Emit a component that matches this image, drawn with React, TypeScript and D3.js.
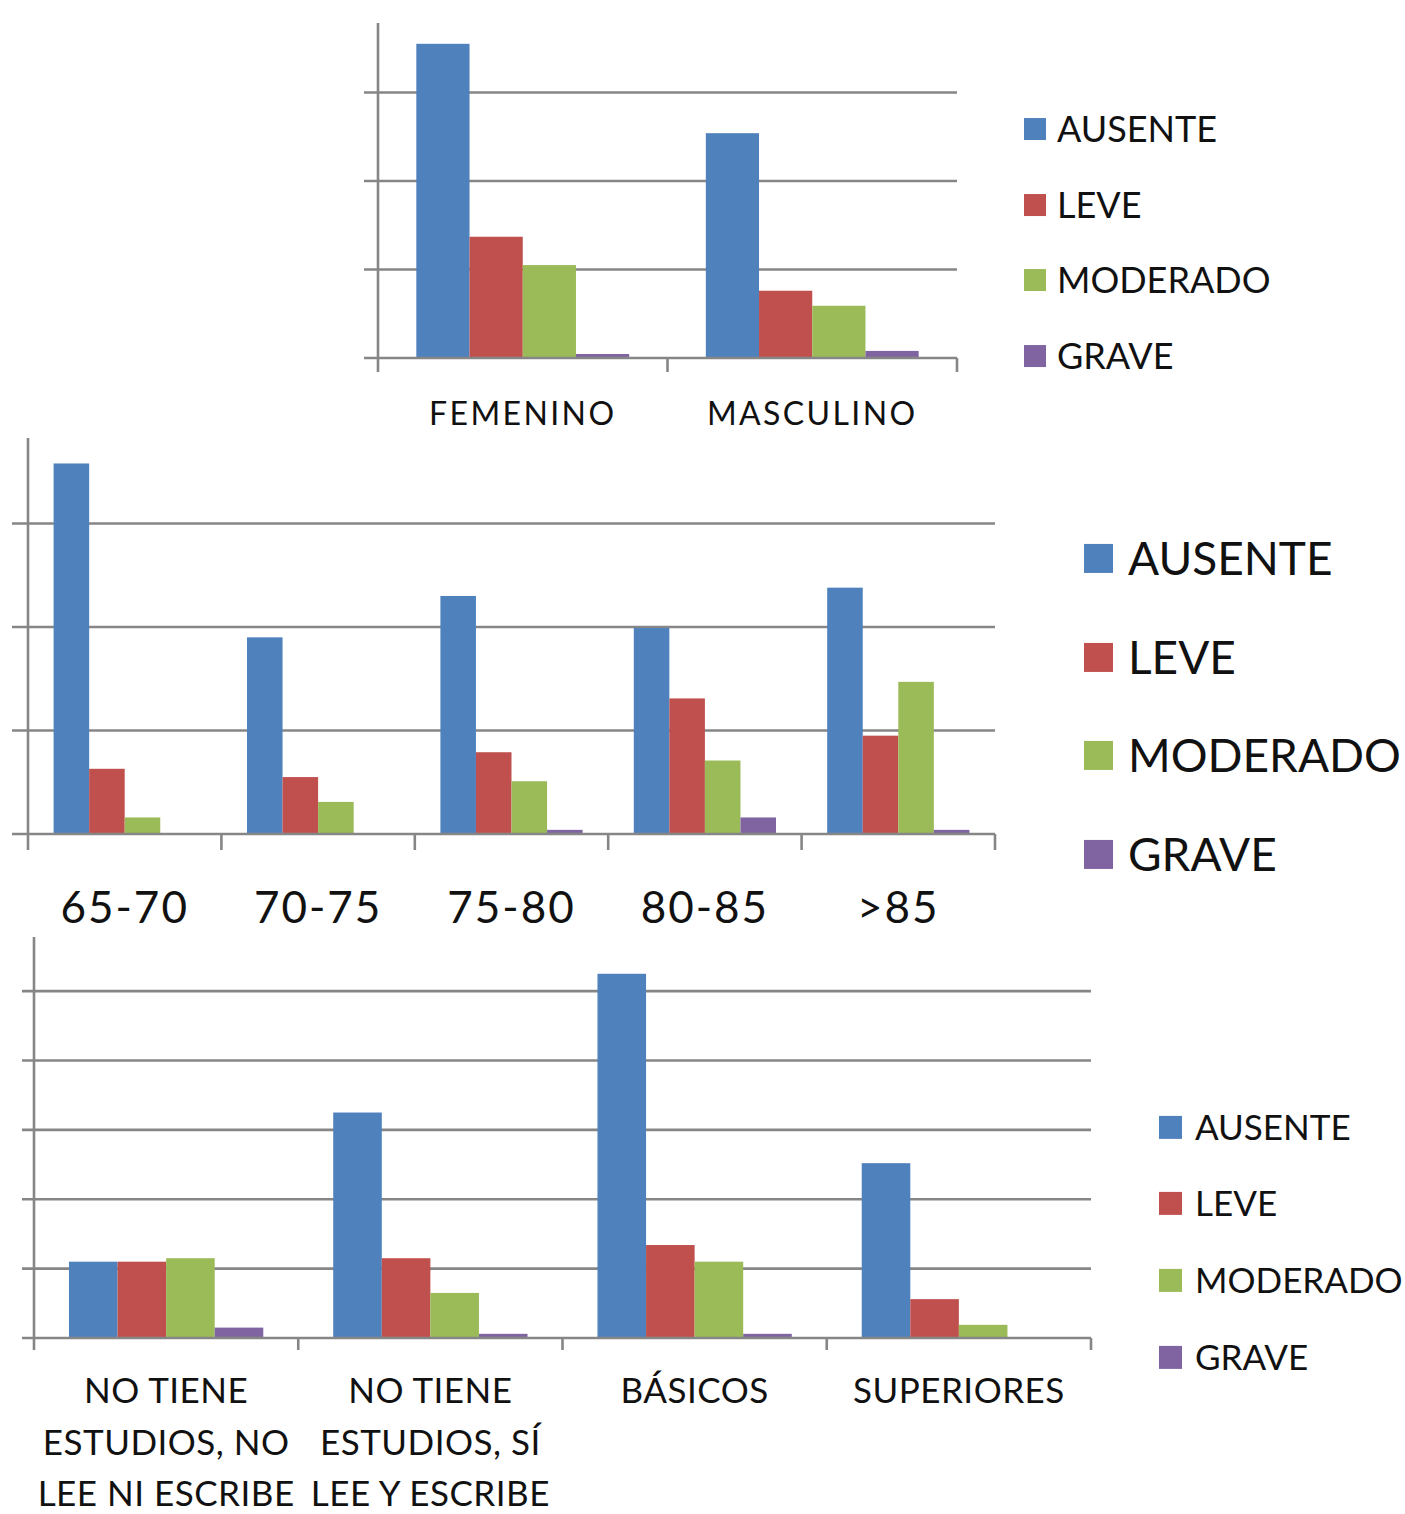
import React from "react";
import * as d3 from "d3";

// ---------- data ----------
const SERIES = ["AUSENTE", "LEVE", "MODERADO", "GRAVE"];
const COLORS = ["#4F81BD", "#C0504D", "#9BBB59", "#8064A2"];

// Chart 1: sexo (%)
const SEXO_CATEGORIES = [["FEMENINO"], ["MASCULINO"]];
const SEXO_AUSENTE = [35.5, 25.4];
const SEXO_LEVE = [13.7, 7.6];
const SEXO_MODERADO = [10.5, 5.9];
const SEXO_GRAVE = [0.45, 0.8];
const SEXO_GRID = [10, 20, 30];

// Chart 2: edad (%)
const EDAD_CATEGORIES = [["65-70"], ["70-75"], ["75-80"], ["80-85"], [">85"]];
const EDAD_AUSENTE = [17.9, 9.5, 11.5, 9.95, 11.9];
const EDAD_LEVE = [3.15, 2.75, 3.95, 6.55, 4.75];
const EDAD_MODERADO = [0.8, 1.55, 2.55, 3.55, 7.35];
const EDAD_GRAVE = [0, 0, 0.2, 0.8, 0.2];
const EDAD_GRID = [5, 10, 15];

// Chart 3: estudios (%)
const ESTUDIOS_CATEGORIES = [
  ["NO TIENE", "ESTUDIOS, NO", "LEE NI ESCRIBE"],
  ["NO TIENE", "ESTUDIOS, SÍ", "LEE Y ESCRIBE"],
  ["BÁSICOS"],
  ["SUPERIORES"],
];
const ESTUDIOS_AUSENTE = [5.5, 16.25, 26.25, 12.6];
const ESTUDIOS_LEVE = [5.5, 5.75, 6.7, 2.8];
const ESTUDIOS_MODERADO = [5.75, 3.25, 5.5, 0.95];
const ESTUDIOS_GRAVE = [0.75, 0.3, 0.3, 0];
const ESTUDIOS_GRID = [5, 10, 15, 20, 25];

const FONT = "Lato, 'Open Sans', sans-serif";
const GRID_COLOR = "#868686";

type Layout = {
  left: number;
  right: number;
  baseline: number;
  top: number;
  yMax: number;
  tick: number;
  labelSize: number;
  labelSpacing: number;
  labelBaseline: number;
  labelLineGap: number;
  legendX: number;
  legendTextX: number;
  legendBaselines: number[];
  legendSquare: number;
  legendSize: number;
  legendSpacing: number;
};

function Chart({
  categories,
  values,
  grid,
  L,
}: {
  categories: string[][];
  values: number[][];
  grid: number[];
  L: Layout;
}) {
  const keys = categories.map((c) => c.join(" "));
  const x0 = d3.scaleBand<string>().domain(keys).range([L.left, L.right]).paddingInner(0).paddingOuter(0);
  const x1 = d3
    .scaleBand<string>()
    .domain(SERIES)
    .range([0, x0.bandwidth()])
    .paddingInner(0)
    .paddingOuter(0.72);
  const y = d3.scaleLinear().domain([0, L.yMax]).range([L.baseline, L.top]);
  const boundaries = d3.range(keys.length + 1).map((i) => L.left + i * x0.step());

  return (
    <g>
      {grid.map((g) => (
        <line
          key={g}
          x1={L.left - L.tick}
          x2={L.right}
          y1={y(g)}
          y2={y(g)}
          stroke={GRID_COLOR}
          strokeWidth={2.6}
        />
      ))}
      {keys.map((k, ci) => (
        <g key={k} transform={`translate(${x0(k)},0)`}>
          {SERIES.map((s, si) => {
            const v = values[si][ci];
            return (
              <rect
                key={s}
                x={x1(s)}
                y={y(v)}
                width={x1.bandwidth()}
                height={L.baseline - y(v)}
                fill={COLORS[si]}
              />
            );
          })}
        </g>
      ))}
      <line x1={L.left - L.tick} x2={L.right} y1={L.baseline} y2={L.baseline} stroke={GRID_COLOR} strokeWidth={2.6} />
      <line x1={L.left} x2={L.left} y1={L.top} y2={L.baseline + L.tick} stroke={GRID_COLOR} strokeWidth={2.6} />
      {boundaries.slice(1).map((bx, i) => (
        <line key={i} x1={bx} x2={bx} y1={L.baseline} y2={L.baseline + L.tick} stroke={GRID_COLOR} strokeWidth={2.6} />
      ))}
      {categories.map((lines, ci) => {
        const cx = (x0(keys[ci]) as number) + x0.bandwidth() / 2;
        return (
          <text
            key={ci}
            x={cx}
            y={L.labelBaseline}
            textAnchor="middle"
            fontFamily={FONT}
            fontSize={L.labelSize}
            letterSpacing={L.labelSpacing}
            fill="#111"
          >
            {lines.map((ln, li) => (
              <tspan key={li} x={cx} y={L.labelBaseline + li * L.labelLineGap}>
                {ln}
              </tspan>
            ))}
          </text>
        );
      })}
      {SERIES.map((s, si) => (
        <g key={s}>
          <rect
            x={L.legendX}
            y={L.legendBaselines[si] - L.legendSquare - (L.legendSize * 0.72 - L.legendSquare) / 2}
            width={L.legendSquare}
            height={L.legendSquare}
            fill={COLORS[si]}
          />
          <text
            x={L.legendTextX}
            y={L.legendBaselines[si]}
            fontFamily={FONT}
            fontSize={L.legendSize}
            letterSpacing={L.legendSpacing}
            fill="#111"
          >
            {s}
          </text>
        </g>
      ))}
    </g>
  );
}

const L1: Layout = {
  left: 378,
  right: 957,
  baseline: 358,
  top: 23,
  yMax: 37.85,
  tick: 14,
  labelSize: 32,
  labelSpacing: 2.4,
  labelBaseline: 425,
  labelLineGap: 0,
  legendX: 1024,
  legendTextX: 1057,
  legendBaselines: [142, 218, 293, 369],
  legendSquare: 22,
  legendSize: 36,
  legendSpacing: 0,
};

const L2: Layout = {
  left: 28,
  right: 995,
  baseline: 834,
  top: 438,
  yMax: 19.13,
  tick: 16,
  labelSize: 44,
  labelSpacing: 2,
  labelBaseline: 923,
  labelLineGap: 0,
  legendX: 1084,
  legendTextX: 1128,
  legendBaselines: [575, 674, 772, 871],
  legendSquare: 29,
  legendSize: 46,
  legendSpacing: 0,
};

const L3: Layout = {
  left: 34,
  right: 1091,
  baseline: 1338,
  top: 937,
  yMax: 28.9,
  tick: 12,
  labelSize: 35,
  labelSpacing: 0.5,
  labelBaseline: 1403,
  labelLineGap: 51.5,
  legendX: 1159,
  legendTextX: 1195,
  legendBaselines: [1140, 1216, 1293, 1370],
  legendSquare: 23,
  legendSize: 35,
  legendSpacing: 0,
};

export default function App() {
  return (
    <svg
      width={1405}
      height={1514}
      style={{ position: "absolute", left: 0, top: 0, background: "#fff" }}
    >
      <rect width={1405} height={1514} fill="#fff" />
      <Chart
        categories={SEXO_CATEGORIES}
        values={[SEXO_AUSENTE, SEXO_LEVE, SEXO_MODERADO, SEXO_GRAVE]}
        grid={SEXO_GRID}
        L={L1}
      />
      <Chart
        categories={EDAD_CATEGORIES}
        values={[EDAD_AUSENTE, EDAD_LEVE, EDAD_MODERADO, EDAD_GRAVE]}
        grid={EDAD_GRID}
        L={L2}
      />
      <Chart
        categories={ESTUDIOS_CATEGORIES}
        values={[ESTUDIOS_AUSENTE, ESTUDIOS_LEVE, ESTUDIOS_MODERADO, ESTUDIOS_GRAVE]}
        grid={ESTUDIOS_GRID}
        L={L3}
      />
    </svg>
  );
}
